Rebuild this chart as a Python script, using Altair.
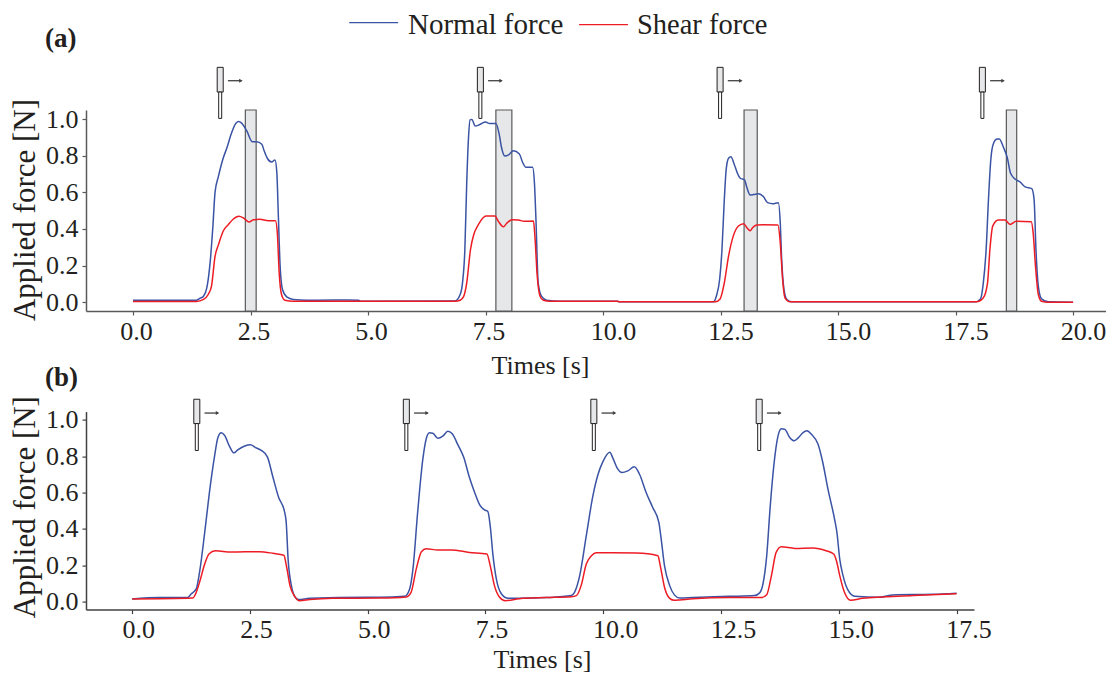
import altair as alt
import pandas as pd

# ---------- Panel (a) ----------
A_NORMAL_T = [0,1.35,1.43,1.5,1.57,1.64,1.7,1.745,1.82,1.91,2.0,2.1,2.19,2.25,2.31,2.42,2.54,2.63,2.74,2.79,2.86,2.95,3.02,3.06,3.09,3.13,3.18,3.27,3.41,3.7,4.3,4.8,4.85,
 6.85,6.96,7.01,7.06,7.10,7.14,7.17,7.21,7.28,7.38,7.50,7.59,7.72,7.79,7.84,7.91,7.99,8.09,8.22,8.29,8.36,8.50,8.54,8.57,8.62,8.69,8.80,9.09,10.3,10.35,
 12.35,12.42,12.48,12.53,12.58,12.62,12.67,12.72,12.79,12.86,12.92,13.01,13.06,13.13,13.20,13.31,13.41,13.50,13.61,13.73,13.77,13.80,13.85,13.91,14.01,
 17.92,18.03,18.09,18.15,18.20,18.25,18.30,18.38,18.43,18.52,18.60,18.67,18.77,18.87,18.98,19.12,19.17,19.21,19.26,19.33,19.47,20.0]
A_NORMAL_F = [.011,.011,.022,.033,.078,.215,.416,.6,.69,.78,.845,.927,.978,.987,.978,.936,.876,.876,.863,.827,.785,.766,.777,.708,.489,.197,.069,.029,.015,.011,.012,.011,.005,
 .007,.042,.106,.288,.653,.909,.996,.998,.962,.971,.984,.976,.976,.918,.845,.799,.805,.827,.81,.763,.737,.737,.653,.471,.106,.033,.011,.005,.005,.002,
 .002,.042,.124,.288,.562,.726,.786,.794,.754,.704,.677,.668,.626,.586,.588,.593,.577,.544,.538,.544,.434,.234,.069,.015,.002,
 .002,.018,.106,.288,.562,.781,.863,.891,.892,.845,.79,.704,.672,.657,.63,.62,.562,.288,.088,.018,.002,0]
A_SHEAR_T = [0,1.35,1.5,1.6,1.67,1.745,1.82,1.92,2.03,2.13,2.25,2.35,2.47,2.56,2.70,2.88,3.03,3.07,3.11,3.16,3.23,3.41,
 6.85,6.96,7.03,7.10,7.18,7.25,7.35,7.51,7.70,7.77,7.88,7.95,8.06,8.20,8.32,8.52,8.55,8.60,8.66,8.73,8.87,10.3,10.35,
 12.39,12.49,12.58,12.67,12.77,12.88,12.99,13.06,13.13,13.18,13.27,13.41,13.72,13.77,13.82,13.87,13.98,
 17.95,18.09,18.18,18.23,18.29,18.41,18.55,18.66,18.79,19.11,19.15,19.20,19.26,19.33,19.47,20.0]
A_SHEAR_F = [.004,.004,.015,.042,.088,.25,.316,.389,.425,.453,.469,.46,.438,.45,.453,.445,.445,.38,.16,.042,.011,.005,
 .005,.011,.029,.106,.288,.37,.425,.471,.471,.443,.412,.431,.451,.449,.442,.443,.361,.142,.033,.011,.005,.005,.002,
 .002,.018,.106,.252,.361,.416,.429,.407,.39,.407,.422,.423,.422,.325,.124,.024,.002,
 .002,.024,.106,.288,.416,.449,.449,.425,.442,.44,.38,.197,.042,.005,0,0]
A_BAR_START = [2.39,7.72,13.0,18.58]
A_BAR_END = [2.62,8.06,13.28,18.80]
A_ICON_T = [1.855,7.39,12.49,18.07]

# ---------- Panel (b) ----------
B_NORMAL_T = [0,.58,1.18,1.25,1.36,1.43,1.54,1.64,1.75,1.82,1.89,1.96,2.07,2.16,2.24,2.39,2.51,2.62,2.74,2.87,2.99,3.11,3.23,3.27,3.31,3.38,3.45,3.53,3.77,4.97,5.25,5.78,
 5.89,5.96,6.06,6.17,6.24,6.31,6.38,6.49,6.60,6.70,6.79,6.91,7.04,7.16,7.27,7.38,7.48,7.55,7.6,7.66,7.73,7.84,7.98,8.22,8.79,9.32,
 9.39,9.5,9.64,9.78,9.89,9.99,10.14,10.2,10.29,10.4,10.52,10.66,10.77,10.91,11.05,11.18,11.23,11.3,11.41,11.51,11.62,11.9,12.68,13.21,
 13.32,13.39,13.47,13.54,13.62,13.71,13.78,13.85,13.96,14.05,14.13,14.24,14.32,14.42,14.56,14.66,14.77,14.91,14.96,15.02,15.09,15.19,15.34,15.87,16.15,17.0,17.5]
B_NORMAL_F = [.015,.022,.022,.042,.07,.161,.381,.601,.802,.903,.93,.916,.853,.819,.835,.857,.863,.848,.833,.797,.683,.573,.5,.436,.234,.088,.029,.011,.018,.024,.024,.029,
 .07,.179,.491,.784,.894,.929,.927,.899,.912,.938,.925,.866,.793,.683,.601,.531,.505,.496,.418,.253,.125,.042,.018,.018,.022,.033,
 .051,.143,.363,.582,.701,.769,.822,.793,.738,.711,.72,.742,.701,.601,.518,.436,.344,.198,.088,.037,.02,.022,.029,.033,
 .048,.097,.253,.509,.747,.912,.951,.949,.903,.885,.899,.93,.94,.921,.866,.766,.619,.454,.381,.234,.143,.066,.029,.024,.037,.04,.046]
B_SHEAR_T = [0,1.29,1.36,1.43,1.54,1.63,1.77,2.10,2.70,2.99,3.22,3.28,3.35,3.45,3.55,3.77,4.26,5.25,5.82,
 5.92,6.03,6.14,6.24,6.49,6.77,7.16,7.53,7.60,7.69,7.80,7.92,8.22,8.79,9.32,
 9.43,9.53,9.64,9.75,9.85,10.2,10.7,11.16,11.21,11.3,11.41,11.51,11.62,11.9,12.68,13.35,
 13.47,13.57,13.67,13.78,14.07,14.45,14.73,14.89,14.95,15.02,15.12,15.25,15.51,16.58,17.5]
B_SHEAR_F = [.015,.02,.051,.106,.207,.262,.28,.273,.275,.266,.255,.189,.088,.029,.005,.011,.018,.02,.026,
 .051,.179,.275,.291,.284,.284,.271,.262,.198,.088,.024,.005,.016,.022,.027,
 .033,.088,.207,.253,.269,.269,.267,.253,.198,.079,.018,.007,.009,.016,.022,.022,
 .038,.143,.271,.302,.293,.295,.28,.262,.225,.143,.051,.007,.018,.033,.044]
B_ICON_T = [1.372,5.82,9.80,13.31]

LEGEND_LABELS = ["Normal force", "Shear force"]
BLUE = "#3a53a4"
RED = "#ed1c24"
INK = "#231f20"
SERIF = "Liberation Serif"


def icons(t_list, X, Y, body_top, body_bot, needle_bot, arrow_y):
    df = pd.DataFrame({"t": t_list})
    df["b0"], df["b1"] = df.t - .064, df.t + .064
    df["n0"], df["n1"] = df.t - .032, df.t + .032
    df["a0"], df["a1"] = df.t + .164, df.t + .45
    df["tip"] = df.t + .44
    df["top"], df["bot"], df["nb"], df["ay"] = body_top, body_bot, needle_bot, arrow_y
    body = alt.Chart(df).mark_rect(fill="#e6e7e8", stroke=INK, strokeWidth=1).encode(
        x=X("b0"), x2="b1", y=Y("top"), y2="bot")
    needle = alt.Chart(df).mark_rect(fill="#ffffff", stroke=INK, strokeWidth=1).encode(
        x=X("n0"), x2="n1", y=Y("bot"), y2="nb")
    shaft = alt.Chart(df).mark_rule(color="#414042", strokeWidth=1.3).encode(
        x=X("a0"), x2="a1", y=Y("ay"))
    head = alt.Chart(df).mark_point(shape="triangle-right", filled=True, color="#414042",
                                    size=16, opacity=1).encode(x=X("tip"), y=Y("ay"))
    return [body, needle, shaft, head]


def series(t, f, color, X, Y):
    return alt.Chart(pd.DataFrame({"t": t, "f": f})).mark_line(
        color=color, strokeWidth=1.5, interpolate="monotone").encode(x=X("t"), y=Y("f"))


def panel(width, height, xdom, ydom, axis_color, offs, title_x, title_y, ytitle_y,
          normal, shear, extra):
    xs = alt.Scale(domain=xdom, nice=False, zero=False)
    ys = alt.Scale(domain=ydom, nice=False, zero=False)
    xaxis = alt.Axis(
        values=[v * 2.5 for v in range(int(xdom[1] / 2.5) + 1)], format=".1f", grid=False,
        domainColor=axis_color, domainWidth=1.5, tickColor=axis_color, tickWidth=1.2, tickSize=4,
        labelFont=SERIF, labelFontSize=26, labelColor=INK, labelPadding=3, labelFlush=False,
        labelOverlap=False,
        labelOffset={"condition": {"test": "datum.value >= 10", "value": offs[1]}, "value": offs[0]},
        titleFont=SERIF, titleFontSize=26, titleFontWeight="normal", titleColor=INK,
        titleX=title_x, titleY=title_y, titleBaseline="alphabetic", titleAlign="center")
    yaxis = alt.Axis(
        values=[0, .2, .4, .6, .8, 1.0], format=".1f", grid=False,
        domainColor=axis_color, domainWidth=1.5, tickColor=axis_color, tickWidth=1.2, tickSize=4,
        labelFont=SERIF, labelFontSize=26, labelColor=INK, labelPadding=4,
        titleFont=SERIF, titleFontSize=31, titleFontWeight="normal", titleColor=INK,
        titleX=-52, titleY=ytitle_y, titleBaseline="alphabetic", titleAlign="center")
    X = lambda f: alt.X(f + ":Q", scale=xs, axis=xaxis, title="Times [s]")
    Y = lambda f: alt.Y(f + ":Q", scale=ys, axis=yaxis, title="Applied force [N]")
    layers = extra(X, Y)
    layers += [series(*normal, BLUE, X, Y), series(*shear, RED, X, Y)]
    return alt.layer(*layers).properties(width=width, height=height)


def label(text, t, f, X, Y, size, bold=False):
    return alt.Chart(pd.DataFrame({"t": [t], "f": [f], "s": [text]})).mark_text(
        font=SERIF, fontSize=size, fontWeight="bold" if bold else "normal", color=INK,
        align="left", baseline="alphabetic").encode(x=X("t"), y=Y("f"), text="s:N")


def extra_a(X, Y):
    bars = alt.Chart(pd.DataFrame({"s": A_BAR_START, "e": A_BAR_END, "lo": [-.048] * 4, "hi": [1.05] * 4})
                     ).mark_rect(fill="#e6e7e8", stroke="#58595b", strokeWidth=1.2).encode(
        x=X("s"), x2="e", y=Y("lo"), y2="hi")
    legend_lines = [
        alt.Chart(pd.DataFrame({"a": [4.6], "b": [5.64], "y": [1.527]})).mark_rule(
            color=BLUE, strokeWidth=1.3).encode(x=X("a"), x2="b", y=Y("y")),
        alt.Chart(pd.DataFrame({"a": [9.49], "b": [10.53], "y": [1.516]})).mark_rule(
            color=RED, strokeWidth=1.3).encode(x=X("a"), x2="b", y=Y("y")),
    ]
    return ([bars] + icons(A_ICON_T, X, Y, 1.283, 1.148, 1.004, 1.21) + legend_lines + [
        label(LEGEND_LABELS[0], 5.85, 1.4626, X, Y, 29),
        label(LEGEND_LABELS[1], 10.72, 1.4626, X, Y, 28.5),
        label("(a)", -1.87, 1.396, X, Y, 27, True),
    ])


def extra_b(X, Y):
    return icons(B_ICON_T, X, Y, 1.114, .98, .832, 1.038) + [label("(b)", -1.85, 1.187, X, Y, 27, True)]


top = panel(1020, 201, [-1.0, 20.7], [-.048, 1.05], "#58595b", (3, 10), 454, 62.5, 99.5,
            (A_NORMAL_T, A_NORMAL_F), (A_SHEAR_T, A_SHEAR_F), extra_a)
bottom = panel(888, 198, [-.98, 17.87], [-.044, 1.046], "#414042", (6, 12), 456, 58, 95,
               (B_NORMAL_T, B_NORMAL_F), (B_SHEAR_T, B_SHEAR_F), extra_b)

chart = alt.vconcat(top, bottom, spacing=100.6, bounds="flush").properties(
    padding={"left": 0, "top": 3, "right": 0, "bottom": 0}, background="white"
).configure_view(stroke=None)

chart.save("out.html", embed_options={"renderer": "svg", "actions": False})
